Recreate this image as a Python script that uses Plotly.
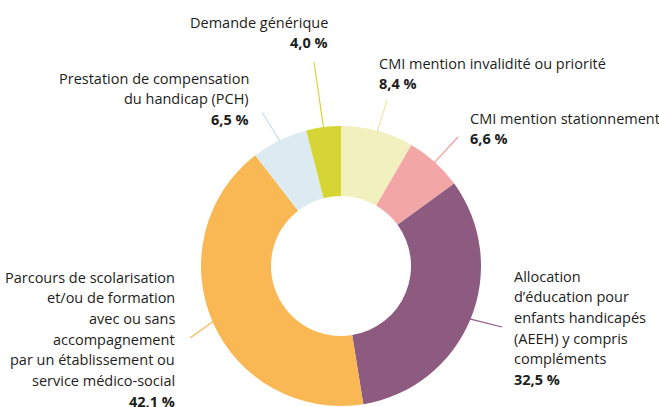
import math
import plotly.graph_objects as go

labels = [
    "CMI mention invalidité ou priorité",
    "CMI mention stationnement",
    "Allocation d’éducation pour enfants handicapés (AEEH) y compris compléments",
    "Parcours de scolarisation et/ou de formation avec ou sans accompagnement par un établissement ou service médico-social",
    "Prestation de compensation du handicap (PCH)",
    "Demande générique",
]
label_lines = [
    ["CMI mention invalidité ou priorité"],
    ["CMI mention stationnement"],
    ["Allocation", "d’éducation pour", "enfants handicapés", "(AEEH) y compris", "compléments"],
    ["Parcours de scolarisation", "et/ou de formation", "avec ou sans", "accompagnement",
     "par un établissement ou", "service médico-social"],
    ["Prestation de compensation", "du handicap (PCH)"],
    ["Demande générique"],
]
values = [8.4, 6.6, 32.5, 42.1, 6.5, 4.0]
colors = ["#F3F0C0", "#F2A6A6", "#8E5B80", "#F9B853", "#DCEAF2", "#D5D635"]
line_colors = ["#ECE8A8", "#F29B9B", "#8E5B80", "#F9B853", "#C8DDEA", "#D5D635"]

W, H = 659, 407
CX, CY, R = 341, 266, 140
LINE_H = 20.7

# label layout (pixels): anchor x, first line centre y, side
label_pos = [
    (377, 63, "left"),
    (468, 118, "left"),
    (512, 276, "left"),
    (177, 277, "right"),
    (251, 78, "right"),
    (330, 22, "right"),
]
leader_end = [(387, 100), (458, 137), (502, 327), (190, 338), (262, 112), (314, 62)]

def px(x):
    return x / W

def py(y):
    return 1 - y / H

fig = go.Figure(go.Pie(
    labels=labels,
    values=values,
    hole=0.5,
    sort=False,
    direction="clockwise",
    rotation=0,
    marker=dict(colors=colors, line=dict(width=0)),
    textinfo="none",
    hoverinfo="label+percent",
    domain=dict(x=[px(CX - R), px(CX + R)], y=[py(CY + R), py(CY - R)]),
    showlegend=False,
))

total = sum(values)
cum = 0
shapes = []
annotations = []
font = dict(family="Open Sans", size=14.5, color="#1d1d1b")
for i, v in enumerate(values):
    mid = (cum + v / 2) / total * 2 * math.pi
    cum += v
    sx = CX + (R - 1) * math.sin(mid)
    sy = CY - (R - 1) * math.cos(mid)
    ex, ey = leader_end[i]
    shapes.append(dict(type="line", xref="paper", yref="paper",
                       x0=px(sx), y0=py(sy), x1=px(ex), y1=py(ey),
                       line=dict(color=line_colors[i], width=1.2)))
    pct = f"{v:.1f}".replace(".", ",") + " %"
    lines = label_lines[i] + [f"<b>{pct}</b>"]
    ax, ay, side = label_pos[i]
    for k, ln in enumerate(lines):
        annotations.append(dict(
            x=px(ax), y=py(ay + k * LINE_H), xref="paper", yref="paper",
            xanchor=side, yanchor="middle", align=side,
            text=ln, showarrow=False, font=font,
        ))

fig.update_layout(
    width=W, height=H, autosize=False,
    margin=dict(l=0, r=0, t=0, b=0),
    paper_bgcolor="white", plot_bgcolor="white",
    shapes=shapes, annotations=annotations,
)
fig.write_html("out.html", config={"displayModeBar": False},
               post_script="document.body.style.margin='0';")
